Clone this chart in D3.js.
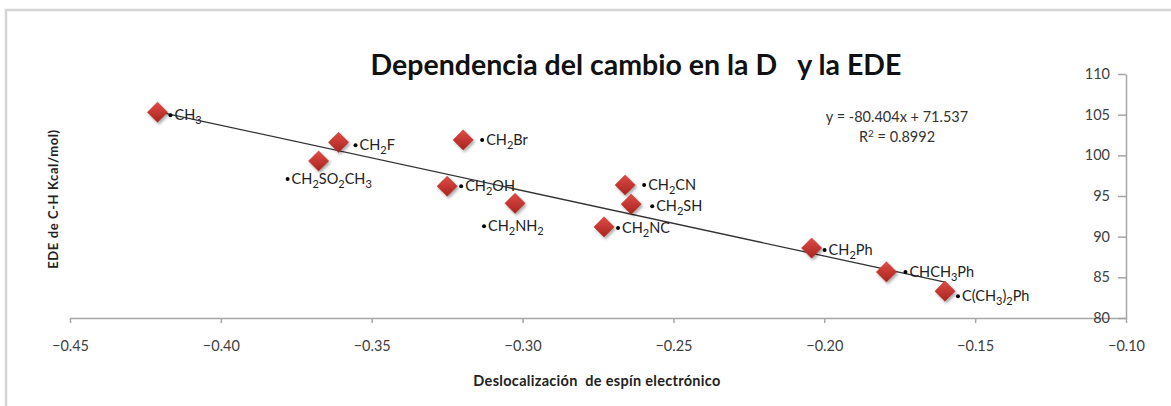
<!DOCTYPE html>
<html>
<head>
<meta charset="utf-8">
<script src="https://cdn.jsdelivr.net/npm/d3@7"></script>
<style>
  body { margin: 0; background: #fff; }
  svg { font-family: Lato, "Open Sans", sans-serif; }
</style>
</head>
<body>
<div id="chart"></div>
<script>
// data
var names = ["CH3", "CH2F", "CH2SO2CH3", "CH2Br", "CH2OH", "CH2NH2",
             "CH2CN", "CH2SH", "CH2NC", "CH2Ph", "CHCH3Ph", "C(CH3)2Ph"];
var spin = [-0.421, -0.361, -0.3676, -0.3197, -0.325, -0.3025,
            -0.266, -0.264, -0.273, -0.2042, -0.1794, -0.160];
var ede = [105.3, 101.6, 99.3, 101.9, 96.2, 94.1,
           96.35, 94.0, 91.2, 88.6, 85.66, 83.3];
var xTicks = [-0.45, -0.40, -0.35, -0.30, -0.25, -0.20, -0.15, -0.10];
var yTicks = [80, 85, 90, 95, 100, 105, 110];
var slope = -80.404, intercept = 71.537, r2 = 0.8992;

// where each label sits relative to its marker (px)
var labelOffset = [[13, 3], [17, 3], [-31, 18], [19, 0], [14, 0], [-31, 23],
                   [19, 0], [21, 2], [14, 1], [13, 2], [19, 0], [13, 5]];

var W = 1171, H = 406;
var margin = {top: 74, right: 45, bottom: 88, left: 70},
    width = W - margin.left - margin.right,
    height = H - margin.top - margin.bottom;

var svg = d3.select("#chart").append("svg")
    .attr("width", W).attr("height", H);

// outer frame
svg.append("path")
    .attr("d", "M6," + H + "V10H" + W)
    .attr("fill", "none").attr("stroke", "#d4d4d4").attr("stroke-width", 2.5);

var defs = svg.append("defs");
var grad = defs.append("linearGradient").attr("id", "red")
    .attr("x1", 0).attr("y1", 0).attr("x2", 0).attr("y2", 1);
grad.append("stop").attr("offset", "0%").attr("stop-color", "#e04c46");
grad.append("stop").attr("offset", "100%").attr("stop-color", "#a8231f");
var shadow = defs.append("filter").attr("id", "shadow")
    .attr("x", "-50%").attr("y", "-50%").attr("width", "200%").attr("height", "200%");
shadow.append("feDropShadow").attr("dx", 1.5).attr("dy", 2).attr("stdDeviation", 1.5)
    .attr("flood-color", "#000").attr("flood-opacity", 0.35);

var g = svg.append("g")
    .attr("transform", "translate(" + margin.left + "," + margin.top + ")");

var x = d3.scaleLinear().domain([-0.45, -0.10]).range([0, width]);
var y = d3.scaleLinear().domain([80, 110]).range([height, 0]);

// x axis
var xAxis = g.append("g")
    .attr("transform", "translate(0," + height + ")")
    .call(d3.axisBottom(x).tickValues(xTicks).tickFormat(d3.format(".2f"))
      .tickSize(5).tickSizeOuter(0).tickPadding(18));
// y axis sits on the right edge (x = -0.10), labels on its left
var yAxis = g.append("g")
    .attr("transform", "translate(" + width + ",0)")
    .call(d3.axisLeft(y).tickValues(yTicks).tickSize(8).tickSizeOuter(0).tickPadding(8));

[xAxis, yAxis].forEach(function(a) {
  a.select(".domain").attr("stroke", "#a6a6a6").attr("stroke-width", 1.5);
  a.selectAll(".tick line").attr("stroke", "#a6a6a6").attr("stroke-width", 1.5);
  a.selectAll(".tick text").attr("fill", "#404040").attr("font-size", 14.5)
    .attr("font-family", "Lato, sans-serif");
});

var data = names.map(function(n, i) {
  return {name: n, x: spin[i], y: ede[i], off: labelOffset[i]};
});

// linear trend line across the data extent
var ext = d3.extent(spin);
g.append("line")
    .attr("x1", x(ext[0])).attr("y1", y(slope * ext[0] + intercept))
    .attr("x2", x(ext[1])).attr("y2", y(slope * ext[1] + intercept))
    .attr("stroke", "#333").attr("stroke-width", 1.3);

// diamonds
g.selectAll(".pt").data(data).enter().append("path")
    .attr("class", "pt")
    .attr("d", d3.symbol().type(d3.symbolDiamond2).size(260))
    .attr("transform", function(d) { return "translate(" + x(d.x) + "," + y(d.y) + ")"; })
    .attr("fill", "url(#red)").attr("stroke", "#b52b26").attr("stroke-width", 0.5)
    .attr("filter", "url(#shadow)");

// labels with subscripts for digits
function addFormula(sel, name) {
  var parts = name.match(/\d+|[^\d]+/g);
  var sub = false;
  parts.forEach(function(p) {
    var isNum = /^\d+$/.test(p);
    var t = sel.append("tspan").text(p);
    if (isNum && !sub) { t.attr("dy", 4).attr("font-size", 11); sub = true; }
    else if (!isNum && sub) { t.attr("dy", -4); sub = false; }
    else if (isNum) t.attr("font-size", 11);
  });
}
var lab = g.selectAll(".lab").data(data).enter().append("g")
    .attr("class", "lab")
    .attr("transform", function(d) {
      return "translate(" + (x(d.x) + d.off[0]) + "," + (y(d.y) + d.off[1]) + ")";
    });
lab.append("circle").attr("r", 2).attr("fill", "#000");
lab.append("text").attr("x", 4).attr("y", 5)
    .attr("font-size", 14.5).attr("fill", "#222")
    .each(function(d) { addFormula(d3.select(this), d.name); });

// equation
var eq = svg.append("text").attr("x", 897).attr("y", 122)
    .attr("text-anchor", "middle").attr("font-size", 14.5).attr("fill", "#333");
eq.text("y = " + slope + "x + " + intercept);
var rt = svg.append("text").attr("x", 897).attr("y", 142)
    .attr("text-anchor", "middle").attr("font-size", 14.5).attr("fill", "#333");
rt.append("tspan").text("R");
rt.append("tspan").attr("dy", -5).attr("font-size", 10).text("2");
rt.append("tspan").attr("dy", 5).text(" = " + r2);

// title
svg.append("text").attr("x", 636).attr("y", 75)
    .attr("text-anchor", "middle").attr("font-size", 28.5).attr("font-weight", "bold")
    .attr("fill", "#111")
    .text("Dependencia del cambio en la D\u00a0\u00a0\u00a0y la EDE");

// axis titles
svg.append("text").attr("x", 597).attr("y", 386)
    .attr("text-anchor", "middle").attr("font-size", 14.5).attr("font-weight", "bold")
    .attr("fill", "#222").attr("letter-spacing", 0.3).attr("xml:space", "preserve")
    .text("Deslocalización  de espín electrónico");
svg.append("text")
    .attr("transform", "translate(58,199) rotate(-90)")
    .attr("text-anchor", "middle").attr("font-size", 13).attr("font-weight", "bold")
    .attr("fill", "#222").attr("letter-spacing", 0.6)
    .text("EDE de C-H Kcal/mol)");
</script>
</body>
</html>
